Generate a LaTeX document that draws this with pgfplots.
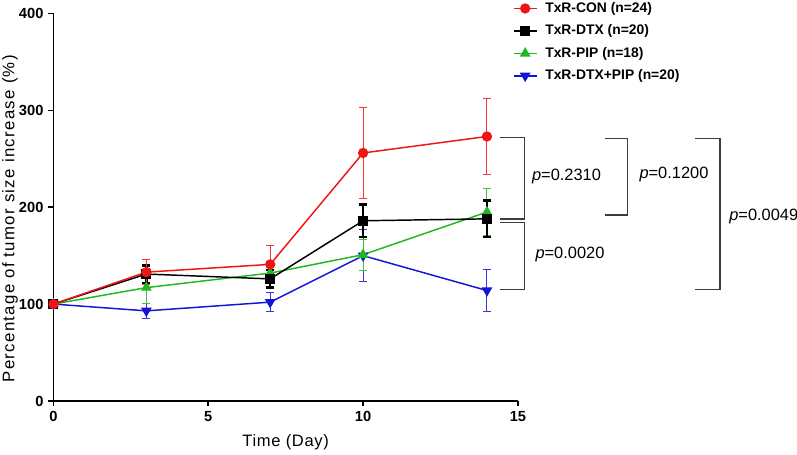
\documentclass[border=0pt]{standalone}
\usepackage{fontspec}
\setmainfont{Liberation Sans}
\usepackage{pgfplots}
\pgfplotsset{compat=1.18}
\definecolor{cred}{RGB}{240,20,20}
\definecolor{cgreen}{RGB}{30,185,30}
\definecolor{cblue}{RGB}{20,20,215}
\definecolor{cgray}{RGB}{60,60,60}
\begin{document}
\begin{tikzpicture}
\begin{axis}[
  scale only axis, width=348.3pt, height=290.6pt,
  xmin=0, xmax=15, ymin=0, ymax=400,
  axis x line*=bottom, axis y line*=left,
  axis line style={line width=1.4pt},
  xtick={0,5,10,15}, ytick={0,100,200,300,400},
  tick style={line width=1.2pt, black}, tick align=outside, major tick length=4pt,
  /pgf/number format/assume math mode=true,
  tick label style={font=\fontsize{11}{13}\selectfont\bfseries},
  xlabel={Time (Day)}, ylabel={Percentage of tumor size increase (\%)},
  every axis x label/.style={at={(axis description cs:0.5,-0.106)}, anchor=center, font=\fontsize{12.4}{14}\selectfont\addfontfeature{LetterSpace=4}},
  every axis y label/.style={at={(axis description cs:-0.0937,0.47)}, rotate=90, anchor=center, font=\fontsize{12.6}{14}\selectfont\addfontfeature{LetterSpace=8}},
  clip=false,
  legend style={draw=none, fill=none, inner sep=0pt, at={(0.989,1.036)}, anchor=north west,
    font=\fontsize{10.4}{12}\selectfont\bfseries, row sep=3.8pt, column sep=4pt},
  legend cell align=left,
  reverse legend,
]
% blue
\addplot[cblue, line width=1.1pt, mark=triangle*, mark size=3.6pt, mark options={rotate=180},
  error bars/.cd, y dir=both, y explicit,
  error bar style={line width=0.7pt, cblue!85},
  error mark options={rotate=90, mark size=3pt, line width=0.7pt, cblue!85}]
  coordinates {(0,100)+-(0,0) (3,93)+-(0,8) (7,102)+-(0,10) (10,150)+-(0,27) (14,114)+-(0,22)};
\addlegendentry{TxR-DTX+PIP (n=20)}
% green
\addplot[cgreen, line width=1.1pt, mark=triangle*, mark size=3.6pt,
  error bars/.cd, y dir=both, y explicit,
  error bar style={line width=0.7pt, cgreen!85},
  error mark options={rotate=90, mark size=3pt, line width=0.7pt, cgreen!85}]
  coordinates {(0,100)+-(0,0) (3,117)+-(0,16) (7,132)+-(0,9) (10,151)+-(0,16) (14,195)+-(0,24)};
\addlegendentry{TxR-PIP (n=18)}
% black
\addplot[black, line width=1.1pt, mark=square*, mark size=3.2pt,
  error bars/.cd, y dir=both, y explicit,
  error bar style={line width=1.8pt, black},
  error mark options={rotate=90, mark size=3pt, line width=1.8pt, black}]
  coordinates {(0,100)+-(0,0) (3,131)+-(0,9) (7,126)+-(0,9) (10,186)+-(0,17) (14,188)+-(0,19)};
\addlegendentry{TxR-DTX (n=20)}
% red
\addplot[cred, line width=1.1pt, mark=*, mark size=3.3pt,
  error bars/.cd, y dir=both, y explicit,
  error bar style={line width=0.7pt, cred!85},
  error mark options={rotate=90, mark size=3pt, line width=0.7pt, cred!85}]
  coordinates {(0,100)+-(0,0) (3,133)+-(0,13) (7,141)+-(0,20) (10,256)+-(0,47) (14,273)+-(0,39)};
\addlegendentry{TxR-CON (n=24)}
% significance brackets
\draw[cgray, line width=1pt] (axis cs:14.43,272) -- (axis cs:15.21,272) -- (axis cs:15.21,187.8) -- (axis cs:14.43,187.8);
\draw[cgray, line width=1pt] (axis cs:14.43,184) -- (axis cs:15.21,184) -- (axis cs:15.21,115.3) -- (axis cs:14.43,115.3);
\draw[cgray, line width=1pt] (axis cs:17.8,271.1) -- (axis cs:18.55,271.1) -- (axis cs:18.55,192) -- (axis cs:17.8,192);
\draw[cgray, line width=1pt] (axis cs:20.73,271.1) -- (axis cs:21.53,271.1) -- (axis cs:21.53,115.3) -- (axis cs:20.73,115.3);
\node[anchor=west, inner sep=0pt, font=\fontsize{12.3}{14}\selectfont] at (axis cs:15.45,232.2) {\textit{p}=0.2310};
\node[anchor=west, inner sep=0pt, font=\fontsize{12.3}{14}\selectfont] at (axis cs:18.92,234.3) {\textit{p}=0.1200};
\node[anchor=west, inner sep=0pt, font=\fontsize{12.3}{14}\selectfont] at (axis cs:21.82,190.2) {\textit{p}=0.0049};
\node[anchor=west, inner sep=0pt, font=\fontsize{12.3}{14}\selectfont] at (axis cs:15.56,150.7) {\textit{p}=0.0020};
\end{axis}
\pgfresetboundingbox
\path ([xshift=-40.1pt,yshift=-40.5pt]current axis.south west) rectangle ([xshift=209.3pt,yshift=10.1pt]current axis.north east);
\end{tikzpicture}
\end{document}
